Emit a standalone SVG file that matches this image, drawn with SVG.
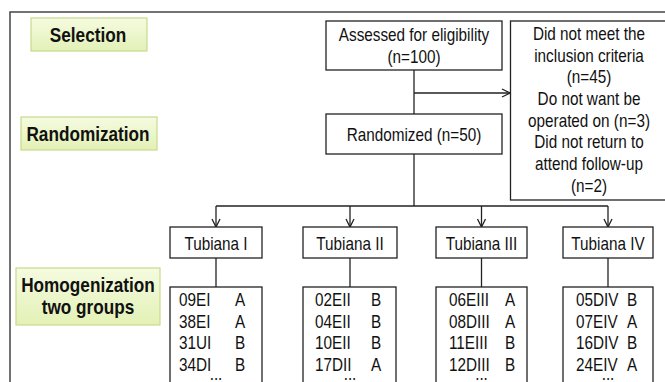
<svg xmlns="http://www.w3.org/2000/svg" width="665" height="382" viewBox="0 0 665 382">
<style>
.t{font-family:"Liberation Sans",Arial,sans-serif;font-size:18px;fill:#111;text-anchor:middle}
.s{text-anchor:start}
.b{font-family:"Liberation Sans",Arial,sans-serif;font-size:20px;font-weight:bold;fill:#111;text-anchor:middle}
.box{fill:#fff;stroke:#222;stroke-width:1.3}
.lbl{fill:url(#gr);stroke:#c6da8e;stroke-width:1.2}
.ln{fill:none;stroke:#222;stroke-width:1.3}
</style>
<defs>
<linearGradient id="gr" x1="0" y1="0" x2="0" y2="1">
<stop offset="0" stop-color="#f5fbe0"/>
<stop offset="1" stop-color="#e3f1b6"/>
</linearGradient>
<marker id="ar" markerUnits="userSpaceOnUse" markerWidth="12" markerHeight="12" refX="9" refY="5" orient="auto">
<path d="M1,1 L9,5 L1,9" fill="none" stroke="#222" stroke-width="1.3"/>
</marker>
</defs>
<rect width="665" height="382" fill="#fff"/>
<path d="M10,382 V12 H665" fill="none" stroke="#444" stroke-width="1.5"/>

<g id="connectors">
<path class="ln" d="M414,70 V114"/>
<path class="ln" d="M414,93 H510" marker-end="url(#ar)"/>
<path class="ln" d="M414,154 V206"/>
<path class="ln" d="M216,206 H608"/>
<path class="ln" d="M216,206 V227" marker-end="url(#ar)"/>
<path class="ln" d="M350,206 V227" marker-end="url(#ar)"/>
<path class="ln" d="M481.5,206 V227" marker-end="url(#ar)"/>
<path class="ln" d="M608,206 V227" marker-end="url(#ar)"/>
<path class="ln" d="M216,258 V287"/>
<path class="ln" d="M350,258 V287"/>
<path class="ln" d="M481.5,258 V287"/>
<path class="ln" d="M608,258 V287"/>
</g>

<g id="selection">
<rect class="lbl" x="31" y="18" width="116" height="33"/>
<text class="b" transform="translate(88,42) scale(0.86,1)">Selection</text>
</g>
<g id="randomization">
<rect class="lbl" x="21" y="117" width="136" height="33"/>
<text class="b" transform="translate(88,141) scale(0.86,1)">Randomization</text>
</g>
<g id="homogenization">
<rect class="lbl" x="16" y="268" width="144" height="57"/>
<text class="b" transform="translate(88,292) scale(0.86,1)">Homogenization</text>
<text class="b" transform="translate(88,314) scale(0.86,1)">two groups</text>
</g>

<g id="assessed">
<rect class="box" x="326" y="21" width="176" height="49"/>
<text class="t" transform="translate(414,41) scale(0.85,1)">Assessed for eligibility</text>
<text class="t" transform="translate(414,63) scale(0.85,1)">(n=100)</text>
</g>
<g id="excluded">
<rect class="box" x="510.5" y="21" width="160" height="179"/>
<text class="t" transform="translate(589,40) scale(0.85,1)">Did not meet the</text>
<text class="t" transform="translate(589,61.6) scale(0.85,1)">inclusion criteria</text>
<text class="t" transform="translate(589,83.3) scale(0.85,1)">(n=45)</text>
<text class="t" transform="translate(589,105) scale(0.85,1)">Do not want be</text>
<text class="t" transform="translate(589,126.7) scale(0.85,1)">operated on (n=3)</text>
<text class="t" transform="translate(589,148.4) scale(0.85,1)">Did not return to</text>
<text class="t" transform="translate(589,170.1) scale(0.85,1)">attend follow-up</text>
<text class="t" transform="translate(589,191.8) scale(0.85,1)">(n=2)</text>
</g>
<g id="randomized">
<rect class="box" x="326" y="114" width="176" height="40"/>
<text class="t" transform="translate(414,141) scale(0.85,1)">Randomized (n=50)</text>
</g>

<g id="tubiana1">
<rect class="box" x="170" y="227" width="92" height="31"/>
<text class="t" transform="translate(216,250) scale(0.85,1)">Tubiana I</text>
</g>
<g id="tubiana2">
<rect class="box" x="303" y="227" width="94" height="31"/>
<text class="t" transform="translate(350,250) scale(0.85,1)">Tubiana II</text>
</g>
<g id="tubiana3">
<rect class="box" x="436" y="227" width="91" height="31"/>
<text class="t" transform="translate(481.5,250) scale(0.85,1)">Tubiana III</text>
</g>
<g id="tubiana4">
<rect class="box" x="563" y="227" width="90" height="31"/>
<text class="t" transform="translate(608,250) scale(0.85,1)">Tubiana IV</text>
</g>

<g id="list1">
<rect class="box" x="170" y="287" width="92" height="110"/>
<text class="t s" transform="translate(179,306) scale(0.85,1)">09EI</text>
<text class="t s" transform="translate(235,306) scale(0.85,1)">A</text>
<text class="t s" transform="translate(179,327.7) scale(0.85,1)">38EI</text>
<text class="t s" transform="translate(235,327.7) scale(0.85,1)">A</text>
<text class="t s" transform="translate(179,349.3) scale(0.85,1)">31UI</text>
<text class="t s" transform="translate(235,349.3) scale(0.85,1)">B</text>
<text class="t s" transform="translate(179,371) scale(0.85,1)">34DI</text>
<text class="t s" transform="translate(235,371) scale(0.85,1)">B</text>
<text class="t" transform="translate(216,380) scale(0.85,1)">...</text>
</g>
<g id="list2">
<rect class="box" x="303" y="287" width="93" height="110"/>
<text class="t s" transform="translate(315,306) scale(0.85,1)">02EII</text>
<text class="t s" transform="translate(371,306) scale(0.85,1)">B</text>
<text class="t s" transform="translate(315,327.7) scale(0.85,1)">04EII</text>
<text class="t s" transform="translate(371,327.7) scale(0.85,1)">B</text>
<text class="t s" transform="translate(315,349.3) scale(0.85,1)">10EII</text>
<text class="t s" transform="translate(371,349.3) scale(0.85,1)">B</text>
<text class="t s" transform="translate(315,371) scale(0.85,1)">17DII</text>
<text class="t s" transform="translate(371,371) scale(0.85,1)">A</text>
<text class="t" transform="translate(350,380) scale(0.85,1)">...</text>
</g>
<g id="list3">
<rect class="box" x="436" y="287" width="91" height="110"/>
<text class="t s" transform="translate(449,306) scale(0.85,1)">06EIII</text>
<text class="t s" transform="translate(505,306) scale(0.85,1)">A</text>
<text class="t s" transform="translate(449,327.7) scale(0.85,1)">08DIII</text>
<text class="t s" transform="translate(505,327.7) scale(0.85,1)">A</text>
<text class="t s" transform="translate(449,349.3) scale(0.85,1)">11EIII</text>
<text class="t s" transform="translate(505,349.3) scale(0.85,1)">B</text>
<text class="t s" transform="translate(449,371) scale(0.85,1)">12DIII</text>
<text class="t s" transform="translate(505,371) scale(0.85,1)">B</text>
<text class="t" transform="translate(481.5,380) scale(0.85,1)">...</text>
</g>
<g id="list4">
<rect class="box" x="563" y="287" width="90" height="110"/>
<text class="t s" transform="translate(576,306) scale(0.85,1)">05DIV</text>
<text class="t s" transform="translate(627,306) scale(0.85,1)">B</text>
<text class="t s" transform="translate(576,327.7) scale(0.85,1)">07EIV</text>
<text class="t s" transform="translate(627,327.7) scale(0.85,1)">A</text>
<text class="t s" transform="translate(576,349.3) scale(0.85,1)">16DIV</text>
<text class="t s" transform="translate(627,349.3) scale(0.85,1)">B</text>
<text class="t s" transform="translate(576,371) scale(0.85,1)">24EIV</text>
<text class="t s" transform="translate(627,371) scale(0.85,1)">A</text>
<text class="t" transform="translate(608,380) scale(0.85,1)">...</text>
</g>
</svg>
